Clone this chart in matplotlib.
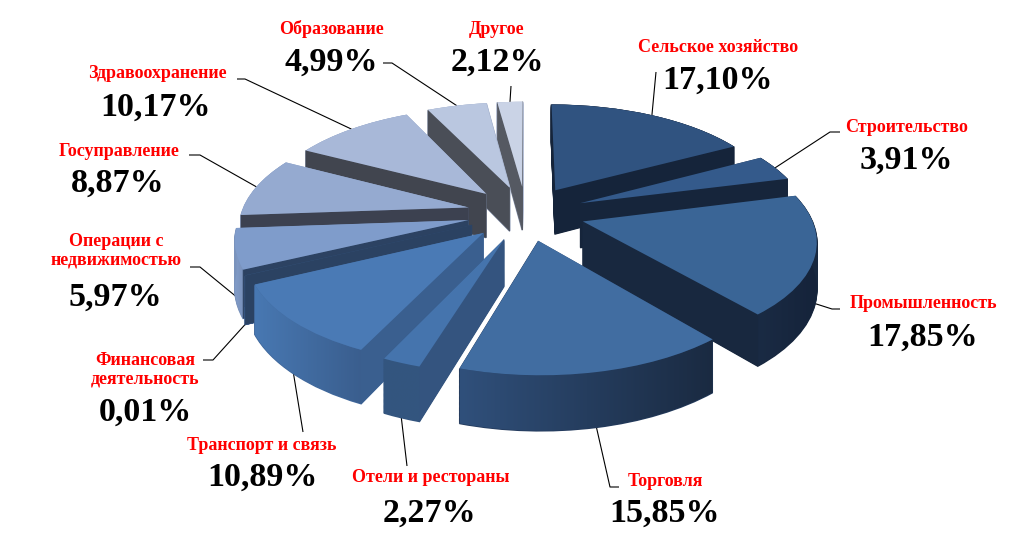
import numpy as np
import matplotlib
matplotlib.use('Agg')
import matplotlib.pyplot as plt
from matplotlib.transforms import Transform
from matplotlib.patches import Polygon
from matplotlib.colors import LinearSegmentedColormap

# ---------------- data ----------------
categories = ['Сельское хозяйство', 'Строительство', 'Промышленность', 'Торговля',
              'Отели и рестораны', 'Транспорт и связь', 'Финансовая\nдеятельность',
              'Операции с\nнедвижимостью', 'Госуправление', 'Здравоохранение',
              'Образование', 'Другое']
shares = [17.10, 3.91, 17.85, 15.85, 2.27, 10.89, 0.01, 5.97, 8.87, 10.17, 4.99, 2.12]
pct_labels = [f"{v:.2f}%".replace('.', ',') for v in shares]

# ---------------- styles ----------------
top_colors = ['#305380', '#345A8B', '#3A6596', '#416DA1', '#4574AD', '#4A7AB5',
              '#4F80BC', '#7F9CCB', '#95AAD0', '#A8B8D8', '#BAC7E0', '#CAD3E6']
wall_colors = ['#15243A', '#17263C', '#18283F', '#243B5D', '#34557F', '#41699D',
               '#3B5C8C', '#7A93BC', '#8CA0C6', '#9AABCC', '#A8B5D0', '#B5BFD6']
wall_left = ['#16263D', '#17263C', '#1A2B44', '#30507B', '#33557F', '#4878B2',
             '#3B5C8C', '#819BC8', '#93A8CF', '#9AABCC', '#A8B5D0', '#B5BFD6']
wall_right = ['#14233A', '#17263C', '#15233A', '#1A2A41', '#34567F', '#3A5E8E',
              '#3B5C8C', '#7891BA', '#8CA0C6', '#9AABCC', '#A8B5D0', '#B5BFD6']
side_colors = ['#15243A', '#16253B', '#18283F', '#1D3050', '#34547F', '#3A5F8F',
               '#2B4262', '#2C4262', '#3C4150', '#41454F', '#4A4E57', '#555962']

# layout (pixels)
CX, CY = 526.0, 213.0
RX, RY = 227.0, 105.0
PERSP = 0.15
DEPTH = 45
EXPLODE = 0.26

name_pos = [(718, 47), (907, 128), (923, 303), (665, 481), (431, 478), (262, 445),
            (145, 370), (116, 251), (119, 151), (157, 74), (332, 29), (497, 29)]
pct_pos = [(718, 80), (906, 160), (923, 337), (665, 513), (430, 513), (262, 477),
           (145, 412), (115, 297), (118, 183), (156, 107), (331, 62), (497, 62)]
leader_pts = [[(656, 72)], [(840, 132), (830, 132)], [(840, 309), (832, 309)],
              [(619, 487), (610, 487)], [(407, 466)], [(303, 432)],
              [(203, 360), (213, 360)], [(190, 267), (200, 267)],
              [(189, 155), (200, 155)], [(237, 79), (245, 79)],
              [(383, 63), (392, 63)], [(511, 86)]]


class Persp(Transform):
    input_dims = 2
    output_dims = 2

    def __init__(self, h=0.0):
        super().__init__()
        self.h = h

    def transform_non_affine(self, values):
        v = np.atleast_2d(np.asarray(values, dtype=float))
        x, y = v[:, 0], v[:, 1]
        w = 1.0 + PERSP * y
        return np.column_stack([CX + RX * x / w, CY - (RY * y + self.h) / w])


fig = plt.figure(figsize=(10.16, 5.36), dpi=100)
ax = fig.add_axes([0, 0, 1, 1])
n = len(shares)
explode = [EXPLODE] * n


def make_pie(colors, lw):
    wedges, _ = ax.pie(shares, explode=explode, startangle=90, counterclock=False,
                       colors=colors, radius=1.0, wedgeprops=dict(linewidth=lw))
    for w in wedges:
        w.set_edgecolor(w.get_facecolor())
    return wedges


# top faces first (to compute drawing order)
tops = make_pie(top_colors, 0.0)
cy_list = [w.center[1] for w in tops]
order = np.argsort(-np.array(cy_list))  # back first
rank = np.empty(n, int)
rank[order] = np.arange(n)
zb = [10 + 4 * rank[i] for i in range(n)]
for i, w in enumerate(tops):
    w.set_transform(Persp(0.0) + ax.transData)
    w.set_zorder(zb[i] + 3)

# stacked layers for the walls
for d in np.arange(DEPTH, 0, -1.0):
    ws = make_pie(wall_colors, 1.2)
    for i, w in enumerate(ws):
        w.set_transform(Persp(-d) + ax.transData)
        w.set_zorder(zb[i])

ptop, pbot = Persp(0.0), Persp(-DEPTH)

# shaded outer walls (horizontal gradient clipped to the wall band)
grad = np.linspace(0, 1, 256).reshape(1, -1)
for i, w in enumerate(tops):
    if w.theta2 - w.theta1 < 0.5:
        continue
    c = np.array(w.center)
    th = np.radians(np.linspace(w.theta1, w.theta2, 80))
    arc = c + w.r * np.column_stack([np.cos(th), np.sin(th)])
    band = np.vstack([ptop.transform(arc), pbot.transform(arc[::-1])])
    x0, x1 = band[:, 0].min(), band[:, 0].max()
    y0, y1 = band[:, 1].min(), band[:, 1].max()
    cmap = LinearSegmentedColormap.from_list(f'w{i}', [wall_left[i], wall_right[i]])
    im = ax.imshow(grad, cmap=cmap, extent=(x0, x1, y1, y0), aspect='auto',
                   interpolation='bilinear', zorder=zb[i] + 1)
    clip = Polygon(band, closed=True, transform=ax.transData)
    im.set_clip_path(clip)

# radial side walls
cam = np.array([0.0, -1.0 / PERSP])
for i, w in enumerate(tops):
    c = np.array(w.center)
    r = w.r
    for t, sgn in ((w.theta1, -1), (w.theta2, 1)):
        tr = np.radians(t)
        nrm = np.radians(t + sgn * 90)
        nvec = np.array([np.cos(nrm), np.sin(nrm)])
        if np.dot(cam - c, nvec) <= 0:
            continue
        rim = c + r * np.array([np.cos(tr), np.sin(tr)])
        pts = np.vstack([ptop.transform([c, rim]), pbot.transform([rim, c])])
        ax.add_patch(Polygon(pts, closed=True, facecolor=side_colors[i],
                             edgecolor=side_colors[i], linewidth=0.5,
                             zorder=zb[i] + 2))

# labels and leader lines
for i, w in enumerate(tops):
    m = np.radians(0.5 * (w.theta1 + w.theta2))
    rim = np.array(w.center) + w.r * np.array([np.cos(m), np.sin(m)])
    h = -DEPTH if rim[1] < 0 else 0.0
    ax_pt = Persp(h).transform([rim])[0]
    pts = leader_pts[i] + [tuple(ax_pt)]
    ax.plot([p[0] for p in pts], [p[1] for p in pts], color='black', lw=0.8,
            zorder=5, solid_capstyle='butt')
    ax.text(name_pos[i][0], name_pos[i][1], categories[i], ha='center', va='center',
            fontsize=13, fontweight='bold', color='#FF0000', family='Liberation Serif',
            linespacing=1.15, zorder=80)
    ax.text(pct_pos[i][0], pct_pos[i][1], pct_labels[i], ha='center', va='center',
            fontsize=24.5, fontweight='bold', color='black', family='Liberation Serif',
            zorder=80)

ax.set_aspect('auto')
ax.set_xlim(0, 1016)
ax.set_ylim(536, 0)
ax.axis('off')
fig.savefig('out.png', dpi=100, facecolor='white')
